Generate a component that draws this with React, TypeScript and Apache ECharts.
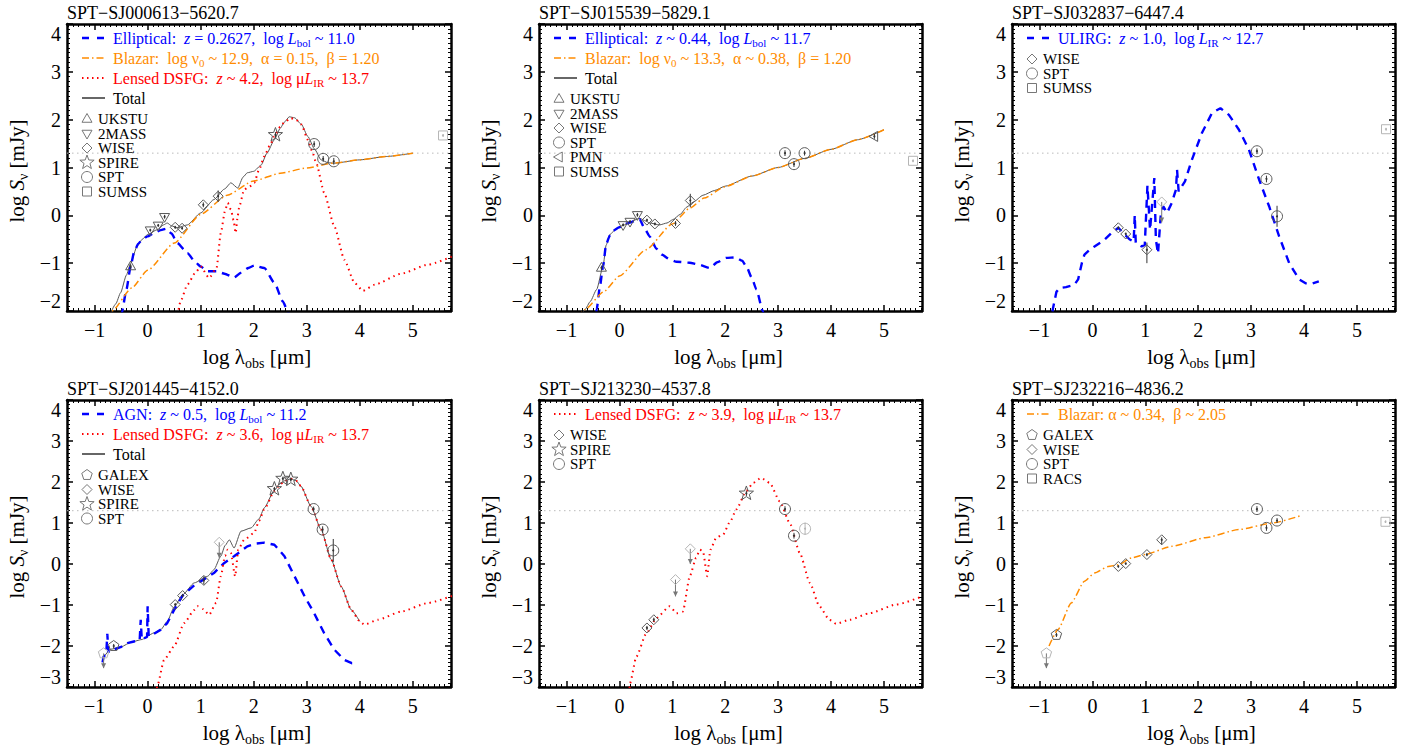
import React, { useEffect, useRef } from 'react';
import * as echarts from 'echarts';

const FONT = 'Liberation Serif, serif';
const BLUE = '#0000ff';
const ORANGE = '#ff8c00';
const RED = '#ff0000';
const GRAY = '#5a5a5a';
const LIGHT = '#b5b5b5';

const X_MIN = -1.52;
const X_MAX = 5.72;
const X_MAJOR = [-1, 0, 1, 2, 3, 4, 5];
const Y_MAX = 4;
const THRESHOLD = 1.3; // log(20 mJy)

// ---------- Panel 1: SPT-SJ000613-5620.7 ----------
const p1Elliptical = [[-0.5, -2.4], [-0.48, -2.0], [-0.4, -1.55], [-0.32, -1.07], [-0.26, -0.79], [-0.18, -0.6], [-0.1, -0.5], [0, -0.44], [0.12, -0.37], [0.25, -0.31], [0.35, -0.28], [0.45, -0.38], [0.56, -0.58], [0.75, -0.79], [0.9, -0.98], [1.0, -1.07], [1.13, -1.17], [1.3, -1.17], [1.45, -1.22], [1.63, -1.3], [1.76, -1.2], [1.9, -1.1], [2.01, -1.05], [2.2, -1.1], [2.39, -1.41], [2.55, -1.8], [2.64, -2.0], [2.7, -2.3]];
const p1Blazar = [[-0.8, -2.15], [-0.67, -2.0], [-0.3, -1.52], [0, -1.15], [0.5, -0.58], [1, 0.02], [1.5, 0.42], [2, 0.72], [2.5, 0.88], [3, 0.99], [3.5, 1.09], [4, 1.16], [4.5, 1.23], [5, 1.3]];
const p1DSFG = [[0.55, -2.2], [0.62, -1.8], [0.75, -1.45], [0.9, -1.2], [1.0, -1.07], [1.16, -1.31], [1.3, -1.1], [1.38, -0.37], [1.46, 0.1], [1.51, 0.26], [1.57, 0.12], [1.62, -0.1], [1.66, -0.37], [1.7, 0.0], [1.73, 0.19], [1.82, 0.54], [1.92, 0.6], [2.01, 0.68], [2.1, 0.95], [2.2, 1.23], [2.3, 1.45], [2.39, 1.65], [2.5, 1.85], [2.58, 1.95], [2.7, 2.03], [2.8, 2.0], [2.9, 1.9], [3.02, 1.58], [3.1, 1.35], [3.18, 1.09], [3.33, 0.47], [3.52, -0.23], [3.71, -0.93], [3.9, -1.41], [4.06, -1.58], [4.28, -1.45], [4.78, -1.22], [5.29, -1.03], [5.8, -0.83]];
const p1Total = [[-0.72, -2.1], [-0.6, -1.85], [-0.51, -1.62], [-0.4, -1.25], [-0.32, -1.0], [-0.2, -0.65], [-0.1, -0.5], [0, -0.4], [0.18, -0.3], [0.3, -0.2], [0.37, -0.16], [0.45, -0.22], [0.56, -0.26], [0.75, -0.2], [1, 0.05], [1.25, 0.33], [1.45, 0.55], [1.57, 0.68], [1.7, 0.57], [1.8, 0.8], [1.88, 0.89], [2.0, 0.92], [2.14, 1.05], [2.25, 1.3], [2.39, 1.58], [2.5, 1.82], [2.58, 1.95], [2.67, 2.06], [2.77, 2.04], [2.9, 1.9], [3.02, 1.65], [3.15, 1.38], [3.27, 1.16], [3.4, 1.1], [3.52, 1.09], [4, 1.16], [4.5, 1.23], [5, 1.3]];
// points: [log λ, log S, err-, err+]
const p1UKSTU = [[-0.32, -1.07, 0.05, 0.05]];
const p1TwoMASS = [[0.05, -0.31, 0.03, 0.03], [0.2, -0.21, 0.03, 0.03], [0.32, -0.03, 0.04, 0.04]];
const p1WISE = [[0.52, -0.25, 0.03, 0.03], [0.65, -0.27, 0.03, 0.03], [1.05, 0.22, 0.05, 0.05], [1.33, 0.4, 0.12, 0.12]];
const p1SPIRE = [[2.41, 1.68, 0.06, 0.06]];
const p1SPT = [[3.14, 1.49, 0.06, 0.06], [3.31, 1.18, 0.06, 0.06], [3.51, 1.13, 0.07, 0.07]];
const p1SUMSS = [[5.57, 1.67, 0.03, 0.03]];

// ---------- Panel 2: SPT-SJ015539-5829.1 ----------
const p2Elliptical = [[-0.45, -2.3], [-0.43, -1.97], [-0.37, -1.5], [-0.31, -1.07], [-0.25, -0.6], [-0.18, -0.42], [-0.12, -0.32], [0, -0.25], [0.07, -0.2], [0.2, -0.15], [0.3, -0.11], [0.38, -0.08], [0.48, -0.28], [0.57, -0.44], [0.7, -0.7], [0.8, -0.82], [0.95, -0.92], [1.08, -0.97], [1.33, -0.99], [1.5, -1.03], [1.71, -1.1], [1.85, -0.98], [2.02, -0.89], [2.2, -0.88], [2.32, -0.95], [2.4, -1.07], [2.5, -1.3], [2.59, -1.55], [2.71, -2.0], [2.75, -2.2]];
const p2Blazar = [[-0.8, -2.13], [-0.65, -1.97], [-0.3, -1.6], [0, -1.27], [0.5, -0.72], [1, -0.18], [1.33, 0.15], [1.6, 0.36], [2, 0.6], [2.5, 0.82], [3, 1.0], [3.5, 1.19], [4, 1.38], [4.5, 1.58], [5, 1.79]];
const p2Total = [[-0.72, -2.1], [-0.65, -1.97], [-0.55, -1.8], [-0.43, -1.55], [-0.31, -1.07], [-0.25, -0.62], [-0.18, -0.4], [-0.05, -0.27], [0.07, -0.21], [0.2, -0.14], [0.38, -0.06], [0.5, -0.12], [0.57, -0.16], [0.76, -0.2], [0.9, -0.16], [1.01, -0.09], [1.15, 0.02], [1.27, 0.17], [1.4, 0.28], [1.58, 0.42], [1.8, 0.52], [2, 0.61], [2.5, 0.82], [3, 1.0], [3.5, 1.19], [4, 1.38], [4.5, 1.58], [5, 1.79]];
const p2UKSTU = [[-0.34, -1.1, 0.05, 0.05]];
const p2TwoMASS = [[0.07, -0.2, 0.03, 0.03], [0.2, -0.13, 0.03, 0.03], [0.34, 0.01, 0.04, 0.04]];
const p2WISE = [[0.52, -0.1, 0.03, 0.03], [0.67, -0.18, 0.03, 0.03], [1.06, -0.17, 0.05, 0.05], [1.34, 0.31, 0.14, 0.14]];
const p2SPT = [[3.13, 1.3, 0.06, 0.06], [3.3, 1.07, 0.06, 0.06], [3.5, 1.3, 0.05, 0.05]];
const p2PMN = [[4.82, 1.65, 0.05, 0.05]];
const p2SUMSS = [[5.55, 1.14, 0.03, 0.03]];

// ---------- Panel 3: SPT-SJ032837-6447.4 ----------
const p3ULIRG = [[-0.78, -2.3], [-0.75, -1.97], [-0.68, -1.6], [-0.62, -1.52], [-0.5, -1.5], [-0.34, -1.45], [-0.27, -1.34], [-0.2, -1.0], [-0.15, -0.82], [-0.05, -0.72], [0.04, -0.65], [0.23, -0.51], [0.35, -0.38], [0.49, -0.26], [0.61, -0.4], [0.7, -0.5], [0.78, -0.55], [0.8, 0.0], [0.82, -0.58], [0.93, -0.65], [0.99, -0.62], [1.04, 0.62], [1.09, -0.3], [1.17, 0.78], [1.2, -0.51], [1.24, -0.8], [1.29, -0.02], [1.34, 0.19], [1.41, 0.05], [1.5, 0.26], [1.58, 0.54], [1.6, 0.95], [1.63, 0.5], [1.75, 0.71], [1.88, 1.16], [2.07, 1.72], [2.26, 2.14], [2.42, 2.24], [2.58, 2.1], [2.77, 1.79], [2.96, 1.37], [3.15, 0.75], [3.34, 0.19], [3.53, -0.44], [3.72, -1.0], [3.91, -1.34], [4.03, -1.42], [4.15, -1.43], [4.28, -1.38]];
const p3WISE = [[0.49, -0.26, 0.03, 0.03], [0.63, -0.39, 0.03, 0.03], [1.03, -0.72, 0.28, 0.15]];
const p3WISELimit = [[1.31, 0.28, -0.15]]; // [log λ, limit, arrow end]
const p3SPT = [[3.11, 1.34, 0.06, 0.06], [3.29, 0.76, 0.07, 0.07], [3.49, -0.02, 0.22, 0.22]];
const p3SUMSS = [[5.55, 1.8, 0.03, 0.03]];

// ---------- Panel 4: SPT-SJ201445-4152.0 ----------
const p4AGN = [[-0.85, -2.4], [-0.83, -2.26], [-0.78, -2.2], [-0.76, -1.7], [-0.74, -2.15], [-0.7, -2.09], [-0.6, -2.07], [-0.51, -2.03], [-0.45, -1.98], [-0.38, -1.93], [-0.26, -1.89], [-0.15, -1.86], [-0.13, -1.36], [-0.11, -1.85], [-0.05, -1.8], [-0.01, -1.78], [0, -1.03], [0.02, -1.76], [0.12, -1.7], [0.25, -1.6], [0.37, -1.44], [0.5, -1.12], [0.66, -0.77], [0.88, -0.52], [1.06, -0.38], [1.25, -0.22], [1.44, 0.02], [1.63, 0.19], [1.88, 0.43], [2.05, 0.5], [2.2, 0.52], [2.39, 0.47], [2.58, 0.19], [2.77, -0.3], [2.96, -0.79], [3.14, -1.2], [3.33, -1.69], [3.52, -2.09], [3.71, -2.34], [3.85, -2.42], [3.96, -2.42]];
const p4DSFG = [[0.15, -3.3], [0.18, -2.99], [0.31, -2.34], [0.5, -2.01], [0.69, -1.44], [0.88, -1.12], [0.94, -1.03], [1.05, -1.1], [1.16, -1.24], [1.29, -0.95], [1.38, -0.3], [1.46, 0.2], [1.51, 0.35], [1.57, 0.27], [1.65, -0.3], [1.71, 0.35], [1.82, 0.59], [2.01, 0.76], [2.1, 1.05], [2.2, 1.33], [2.39, 1.78], [2.5, 1.95], [2.58, 2.02], [2.7, 2.08], [2.8, 2.03], [2.89, 1.9], [3.08, 1.41], [3.27, 0.84], [3.46, 0.11], [3.65, -0.55], [3.84, -1.12], [4.0, -1.4], [4.09, -1.48], [4.34, -1.36], [4.78, -1.16], [5.29, -0.95], [5.8, -0.75]];
const p4Total = [[-0.85, -2.35], [-0.83, -2.25], [-0.7, -2.08], [-0.5, -2.02], [-0.3, -1.9], [-0.1, -1.84], [0, -1.75], [0.12, -1.68], [0.25, -1.6], [0.37, -1.4], [0.5, -1.05], [0.66, -0.75], [0.88, -0.46], [1.13, -0.3], [1.25, -0.14], [1.38, 0.19], [1.46, 0.45], [1.54, 0.59], [1.63, 0.39], [1.76, 0.8], [1.95, 0.88], [2.1, 1.1], [2.2, 1.37], [2.39, 1.8], [2.5, 1.97], [2.58, 2.03], [2.7, 2.08], [2.8, 2.03], [2.89, 1.9], [3.08, 1.41], [3.27, 0.84], [3.46, 0.11], [3.65, -0.55], [3.84, -1.12], [4.0, -1.4]];
const p4GALEX = [[-0.64, -2.0, 0.05, 0.05]];
const p4GALEXLimit = [[-0.83, -2.18, -2.54]];
const p4WISE = [[0.52, -0.99, 0.04, 0.04], [0.66, -0.77, 0.04, 0.04], [1.06, -0.4, 0.1, 0.1]];
const p4WISELimit = [[1.35, 0.53, 0.15]];
const p4SPIRE = [[2.39, 1.83, 0.05, 0.05], [2.55, 2.08, 0.05, 0.05], [2.7, 2.06, 0.05, 0.05]];
const p4SPT = [[3.13, 1.34, 0.06, 0.06], [3.3, 0.84, 0.08, 0.08], [3.5, 0.33, 0.28, 0.28]];

// ---------- Panel 5: SPT-SJ213230-4537.8 ----------
const p5DSFG = [[0.18, -3.3], [0.2, -2.91], [0.32, -2.26], [0.51, -1.69], [0.7, -1.32], [0.95, -1.03], [1.08, -1.2], [1.2, -1.16], [1.33, -0.3], [1.45, 0.15], [1.52, 0.35], [1.58, 0.31], [1.66, -0.3], [1.72, 0.35], [1.83, 0.64], [1.96, 0.72], [2.1, 1.05], [2.21, 1.33], [2.4, 1.78], [2.53, 1.98], [2.68, 2.1], [2.84, 1.98], [3.03, 1.53], [3.22, 1.0], [3.41, 0.27], [3.6, -0.46], [3.78, -1.03], [3.97, -1.36], [4.1, -1.46], [4.35, -1.36], [4.73, -1.2], [5.23, -0.99], [5.8, -0.75]];
const p5WISE = [[0.52, -1.56, 0.05, 0.05], [0.65, -1.36, 0.05, 0.05]];
const p5WISELimit = [[1.06, -0.38, -0.79], [1.34, 0.37, 0.0]];
const p5SPIRE = [[2.4, 1.72, 0.06, 0.06]];
const p5SPT = [[3.13, 1.34, 0.07, 0.07], [3.3, 0.69, 0.07, 0.07]];
const p5SPTFaint = [[3.51, 0.86, 0.15, 0.15]];

// ---------- Panel 6: SPT-SJ232216-4836.2 ----------
const p6Blazar = [[-0.82, -2.0], [-0.65, -1.6], [-0.4, -0.95], [-0.15, -0.42], [0.04, -0.22], [0.3, -0.06], [0.49, -0.02], [0.74, 0.15], [0.99, 0.23], [1.5, 0.43], [2.13, 0.64], [2.77, 0.84], [3.4, 1.0], [3.94, 1.18]];
const p6GALEX = [[-0.68, -1.73, 0.05, 0.05]];
const p6GALEXLimit = [[-0.87, -2.18, -2.54]];
const p6WISE = [[0.49, -0.06, 0.03, 0.03], [0.63, 0.01, 0.03, 0.03], [1.03, 0.23, 0.04, 0.04], [1.31, 0.59, 0.12, 0.06]];
const p6SPT = [[3.11, 1.34, 0.07, 0.07], [3.29, 0.88, 0.07, 0.07], [3.49, 1.06, 0.06, 0.06]];
const p6RACS = [[5.54, 1.03, 0.03, 0.03]];

// ---------- layout ----------
const GRIDS = [
  { left: 67, top: 24, width: 384, height: 287 },
  { left: 539, top: 24, width: 383, height: 287 },
  { left: 1012, top: 24, width: 383, height: 287 },
  { left: 67, top: 400, width: 384, height: 287 },
  { left: 539, top: 400, width: 383, height: 287 },
  { left: 1012, top: 400, width: 383, height: 287 },
];

type Part = [string, string];
const S2 = '\u00a0 ';

const panels: any[] = [
  {
    title: 'SPT−SJ000613−5620.7', yMin: -2,
    curves: [
      { data: p1Elliptical, style: 'dash', smooth: true },
      { data: p1Blazar, style: 'dashdot', smooth: true },
      { data: p1DSFG, style: 'dot', smooth: true },
      { data: p1Total, style: 'total', smooth: true },
    ],
    points: [
      { kind: 'triangle', data: p1UKSTU }, { kind: 'down', data: p1TwoMASS }, { kind: 'diamond', data: p1WISE },
      { kind: 'star', data: p1SPIRE }, { kind: 'circle', data: p1SPT }, { kind: 'square', data: p1SUMSS, light: true },
    ],
    limits: [],
    models: [
      { style: 'dash', parts: [['Elliptical:' + S2, 'n'], ['z', 'i'], [' = 0.2627,' + S2 + 'log ', 'n'], ['L', 'i'], ['bol', 's'], [' ~ 11.0', 'n']] },
      { style: 'dashdot', parts: [['Blazar:' + S2 + 'log ν', 'n'], ['0', 's'], [' ~ 12.9,' + S2 + 'α = 0.15,' + S2 + 'β = 1.20', 'n']] },
      { style: 'dot', parts: [['Lensed DSFG:' + S2, 'n'], ['z', 'i'], [' ~ 4.2,' + S2 + 'log μ', 'n'], ['L', 'i'], ['IR', 's'], [' ~ 13.7', 'n']] },
      { style: 'total', parts: [['Total', 'n']] },
    ],
    symbols: [['triangle', 'UKSTU'], ['down', '2MASS'], ['diamond', 'WISE'], ['star', 'SPIRE'], ['circle', 'SPT'], ['square', 'SUMSS']],
  },
  {
    title: 'SPT−SJ015539−5829.1', yMin: -2,
    curves: [
      { data: p2Elliptical, style: 'dash', smooth: true },
      { data: p2Blazar, style: 'dashdot', smooth: true },
      { data: p2Total, style: 'total', smooth: true },
    ],
    points: [
      { kind: 'triangle', data: p2UKSTU }, { kind: 'down', data: p2TwoMASS }, { kind: 'diamond', data: p2WISE },
      { kind: 'circle', data: p2SPT }, { kind: 'left', data: p2PMN }, { kind: 'square', data: p2SUMSS, light: true },
    ],
    limits: [],
    models: [
      { style: 'dash', parts: [['Elliptical:' + S2, 'n'], ['z', 'i'], [' ~ 0.44,' + S2 + 'log ', 'n'], ['L', 'i'], ['bol', 's'], [' ~ 11.7', 'n']] },
      { style: 'dashdot', parts: [['Blazar:' + S2 + 'log ν', 'n'], ['0', 's'], [' ~ 13.3,' + S2 + 'α ~ 0.38,' + S2 + 'β = 1.20', 'n']] },
      { style: 'total', parts: [['Total', 'n']] },
    ],
    symbols: [['triangle', 'UKSTU'], ['down', '2MASS'], ['diamond', 'WISE'], ['circle', 'SPT'], ['left', 'PMN'], ['square', 'SUMSS']],
  },
  {
    title: 'SPT−SJ032837−6447.4', yMin: -2,
    curves: [{ data: p3ULIRG, style: 'dash', smooth: false }],
    points: [
      { kind: 'diamond', data: p3WISE }, { kind: 'circle', data: p3SPT }, { kind: 'square', data: p3SUMSS, light: true },
    ],
    limits: [{ kind: 'diamond', data: p3WISELimit }],
    models: [
      { style: 'dash', parts: [['ULIRG:' + S2, 'n'], ['z', 'i'], [' ~ 1.0,' + S2 + 'log ', 'n'], ['L', 'i'], ['IR', 's'], [' ~ 12.7', 'n']] },
    ],
    symbols: [['diamond', 'WISE'], ['circle', 'SPT'], ['square', 'SUMSS']],
  },
  {
    title: 'SPT−SJ201445−4152.0', yMin: -3,
    curves: [
      { data: p4AGN, style: 'dash', smooth: false },
      { data: p4DSFG, style: 'dot', smooth: true },
      { data: p4Total, style: 'total', smooth: true },
    ],
    points: [
      { kind: 'pentagon', data: p4GALEX }, { kind: 'diamond', data: p4WISE }, { kind: 'star', data: p4SPIRE }, { kind: 'circle', data: p4SPT },
    ],
    limits: [{ kind: 'pentagon', data: p4GALEXLimit }, { kind: 'diamond', data: p4WISELimit }],
    models: [
      { style: 'dash', parts: [['AGN:' + S2, 'n'], ['z', 'i'], [' ~ 0.5,' + S2 + 'log ', 'n'], ['L', 'i'], ['bol', 's'], [' ~ 11.2', 'n']] },
      { style: 'dot', parts: [['Lensed DSFG:' + S2, 'n'], ['z', 'i'], [' ~ 3.6,' + S2 + 'log μ', 'n'], ['L', 'i'], ['IR', 's'], [' ~ 13.7', 'n']] },
      { style: 'total', parts: [['Total', 'n']] },
    ],
    symbols: [['pentagon', 'GALEX'], ['diamond', 'WISE'], ['star', 'SPIRE'], ['circle', 'SPT']],
  },
  {
    title: 'SPT−SJ213230−4537.8', yMin: -3,
    curves: [{ data: p5DSFG, style: 'dot', smooth: true }],
    points: [
      { kind: 'diamond', data: p5WISE }, { kind: 'star', data: p5SPIRE }, { kind: 'circle', data: p5SPT }, { kind: 'circle', data: p5SPTFaint, light: true },
    ],
    limits: [{ kind: 'diamond', data: p5WISELimit }],
    models: [
      { style: 'dot', parts: [['Lensed DSFG:' + S2, 'n'], ['z', 'i'], [' ~ 3.9,' + S2 + 'log μ', 'n'], ['L', 'i'], ['IR', 's'], [' ~ 13.7', 'n']] },
    ],
    symbols: [['diamond', 'WISE'], ['star', 'SPIRE'], ['circle', 'SPT']],
  },
  {
    title: 'SPT−SJ232216−4836.2', yMin: -3,
    curves: [{ data: p6Blazar, style: 'dashdot', smooth: true }],
    points: [
      { kind: 'pentagon', data: p6GALEX }, { kind: 'diamond', data: p6WISE }, { kind: 'circle', data: p6SPT }, { kind: 'square', data: p6RACS, light: true },
    ],
    limits: [{ kind: 'pentagon', data: p6GALEXLimit }],
    models: [
      { style: 'dashdot', parts: [['Blazar: α ~ 0.34,' + S2 + 'β ~ 2.05', 'n']] },
    ],
    symbols: [['pentagon', 'GALEX'], ['diamond', 'WISE'], ['circle', 'SPT'], ['square', 'RACS']],
  },
];

const CURVE_STYLE: any = {
  dash: { color: BLUE, width: 2.4, type: [8, 6] },
  dashdot: { color: ORANGE, width: 1.5, type: [7, 3, 1.5, 3] },
  dot: { color: RED, width: 2, type: [1.5, 4] },
  total: { color: '#555', width: 1, type: 'solid' },
};
const LEGEND_LINE: any = {
  dash: { stroke: BLUE, lineWidth: 2.4, lineDash: [7, 8] },
  dashdot: { stroke: ORANGE, lineWidth: 1.5, lineDash: [7, 3, 1.5, 3] },
  dot: { stroke: RED, lineWidth: 2, lineDash: [1.5, 3.5] },
  total: { stroke: '#000', lineWidth: 1.2 },
};
const LEGEND_COLOR: any = { dash: BLUE, dashdot: ORANGE, dot: RED, total: '#000' };

function minorValues() {
  const out: number[] = [];
  for (let v = -15; v <= 57; v++) if (v % 10 !== 0) out.push(v / 10);
  return out;
}
const X_MINOR = minorValues();

function symbolEl(kind: string, cx: number, cy: number, color: string) {
  const style = { fill: 'none', stroke: color, lineWidth: 1 };
  const poly = (pts: number[][]) => ({ type: 'polygon', shape: { points: pts }, style });
  const r = 5;
  switch (kind) {
    case 'triangle':
      return poly([[cx, cy - r * 1.1], [cx + r, cy + r * 0.65], [cx - r, cy + r * 0.65]]);
    case 'down':
      return poly([[cx, cy + r * 1.1], [cx + r, cy - r * 0.65], [cx - r, cy - r * 0.65]]);
    case 'left':
      return poly([[cx - r * 1.1, cy], [cx + r * 0.65, cy - r], [cx + r * 0.65, cy + r]]);
    case 'diamond':
      return poly([[cx, cy - r], [cx + r, cy], [cx, cy + r], [cx - r, cy]]);
    case 'square':
      return { type: 'rect', shape: { x: cx - 4.5, y: cy - 4.5, width: 9, height: 9 }, style };
    case 'circle':
      return { type: 'circle', shape: { cx, cy, r: 5.5 }, style };
    case 'star': {
      const pts: number[][] = [];
      for (let k = 0; k < 10; k++) {
        const rr = k % 2 === 0 ? 7.5 : 3.1;
        const a = -Math.PI / 2 + (k * Math.PI) / 5;
        pts.push([cx + rr * Math.cos(a), cy + rr * Math.sin(a)]);
      }
      return poly(pts);
    }
    case 'pentagon': {
      const pts: number[][] = [];
      for (let k = 0; k < 5; k++) {
        const a = -Math.PI / 2 + (k * 2 * Math.PI) / 5;
        pts.push([cx + 5.5 * Math.cos(a), cy + 5.5 * Math.sin(a)]);
      }
      return poly(pts);
    }
  }
  return { type: 'circle', shape: { cx, cy, r: 4 }, style };
}

function richText(parts: Part[], color: string, size: number) {
  const text = parts.map(([t, k]) => `{${k}|${t}}`).join('');
  const sub = Math.round(size * 0.68);
  const rich = {
    n: { fontFamily: FONT, fontSize: size, fill: color, lineHeight: size + 5 },
    i: { fontFamily: FONT, fontSize: size, fill: color, fontStyle: 'italic', lineHeight: size + 5 },
    s: { fontFamily: FONT, fontSize: sub, fill: color, lineHeight: sub + 2, verticalAlign: 'bottom' },
  };
  return { text, rich };
}

function textEl(x: number, y: number, parts: Part[], color: string, size: number, align = 'left', rotation = 0) {
  const rt = richText(parts, color, size);
  return {
    type: 'text', x, y, rotation, silent: true,
    style: { ...rt, fill: color, fontFamily: FONT, fontSize: size, align, verticalAlign: 'middle', textAlign: align, textVerticalAlign: 'middle' },
  };
}

function buildOption() {
  const xAxis: any[] = [];
  const yAxis: any[] = [];
  const series: any[] = [];
  const graphic: any[] = [];
  const fmt = (v: number) => String(v).replace('-', '−');

  panels.forEach((p, i) => {
    const g = GRIDS[i];
    const tickLine = { color: '#000', width: 1.5 };
    const baseX = { gridIndex: i, type: 'value', min: X_MIN, max: X_MAX, splitLine: { show: false } };
    xAxis.push({
      ...baseX, position: 'bottom',
      axisLine: { show: true, onZero: false, lineStyle: { color: '#000', width: 2.5 } },
      axisTick: { show: true, inside: true, length: 6, customValues: X_MAJOR, lineStyle: tickLine },
      axisLabel: { show: true, customValues: X_MAJOR, formatter: fmt, fontFamily: FONT, fontSize: 20, color: '#000', margin: 9 },
    });
    xAxis.push({
      ...baseX, position: 'bottom',
      axisLine: { show: false, onZero: false },
      axisTick: { show: true, inside: true, length: 3, customValues: X_MINOR, lineStyle: { color: '#000', width: 1 } },
      axisLabel: { show: false },
    });
    xAxis.push({
      ...baseX, position: 'top',
      axisLine: { show: true, onZero: false, lineStyle: { color: '#000', width: 2.5 } },
      axisTick: { show: true, inside: true, length: 6, customValues: X_MAJOR, lineStyle: tickLine },
      axisLabel: { show: false },
    });
    xAxis.push({
      ...baseX, position: 'top',
      axisLine: { show: false, onZero: false },
      axisTick: { show: true, inside: true, length: 3, customValues: X_MINOR, lineStyle: { color: '#000', width: 1 } },
      axisLabel: { show: false },
    });
    const baseY = { gridIndex: i, type: 'value', min: p.yMin, max: Y_MAX, interval: 1, splitLine: { show: false } };
    const minor = { show: true, splitNumber: 10, length: 3, lineStyle: { color: '#000', width: 1 } };
    yAxis.push({
      ...baseY, position: 'left',
      axisLine: { show: true, onZero: false, lineStyle: { color: '#000', width: 2.5 } },
      axisTick: { show: true, inside: true, length: 6, lineStyle: tickLine },
      minorTick: minor,
      axisLabel: {
        show: true, formatter: fmt, fontFamily: FONT, fontSize: 20, color: '#000', margin: 6,
        verticalAlignMinLabel: 'bottom', verticalAlignMaxLabel: 'top',
      },
    });
    yAxis.push({
      ...baseY, position: 'right',
      axisLine: { show: true, onZero: false, lineStyle: { color: '#000', width: 2.5 } },
      axisTick: { show: true, inside: true, length: 6, lineStyle: tickLine },
      minorTick: minor,
      axisLabel: { show: false },
    });

    const xi = 4 * i, yi = 2 * i;
    series.push({
      type: 'line', xAxisIndex: xi, yAxisIndex: yi, silent: true, showSymbol: false, z: 1,
      data: [[X_MIN, THRESHOLD], [X_MAX, THRESHOLD]],
      lineStyle: { color: '#bbbbbb', width: 1, type: [1.5, 3.5] },
    });
    p.curves.forEach((c: any) => {
      const st = CURVE_STYLE[c.style];
      series.push({
        type: 'line', xAxisIndex: xi, yAxisIndex: yi, silent: true, showSymbol: false, z: c.style === 'total' ? 2 : 3,
        data: c.data, smooth: c.smooth ? 0.2 : false, smoothMonotone: 'x',
        lineStyle: { color: st.color, width: st.width, type: st.type },
      });
    });
    p.points.forEach((pt: any) => {
      const col = pt.light ? LIGHT : GRAY;
      const barCol = pt.light ? LIGHT : '#333';
      series.push({
        type: 'custom', xAxisIndex: xi, yAxisIndex: yi, silent: true, z: 5, data: pt.data,
        renderItem: (params: any, api: any) => {
          const x = api.value(0), y = api.value(1), lo = api.value(2), hi = api.value(3);
          const c = api.coord([x, y]);
          const a = api.coord([x, y - lo]);
          const b = api.coord([x, y + hi]);
          return {
            type: 'group', children: [
              { type: 'line', shape: { x1: c[0], y1: a[1], x2: c[0], y2: b[1] }, style: { stroke: barCol, lineWidth: 1 } },
              symbolEl(pt.kind, c[0], c[1], col),
              { type: 'circle', shape: { cx: c[0], cy: c[1], r: 1 }, style: { fill: barCol } },
            ],
          };
        },
      });
    });
    p.limits.forEach((pt: any) => {
      series.push({
        type: 'custom', xAxisIndex: xi, yAxisIndex: yi, silent: true, z: 5, data: pt.data,
        renderItem: (params: any, api: any) => {
          const x = api.value(0), y = api.value(1), end = api.value(2);
          const c = api.coord([x, y]);
          const e = api.coord([x, end]);
          return {
            type: 'group', children: [
              { type: 'line', shape: { x1: c[0], y1: c[1], x2: e[0], y2: e[1] }, style: { stroke: '#777', lineWidth: 1 } },
              { type: 'polygon', shape: { points: [[e[0] - 2.5, e[1] - 5], [e[0], e[1]], [e[0] + 2.5, e[1] - 5]] }, style: { fill: '#777' } },
              symbolEl(pt.kind, c[0], c[1], LIGHT),
            ],
          };
        },
      });
    });

    // texts & legends
    graphic.push(textEl(g.left, g.top - 11, [[p.title, 'n']], '#000', 18));
    graphic.push(textEl(g.left + g.width / 2 - 2, g.top + 333, [['log λ', 'n'], ['obs', 's'], [' [μm]', 'n']], '#000', 21, 'center'));
    graphic.push(textEl(g.left - 50, g.top + 147, [['log ', 'n'], ['S', 'i'], ['ν', 's'], [' [mJy]', 'n']], '#000', 21, 'center', Math.PI / 2));
    p.models.forEach((m: any, k: number) => {
      const y = g.top + 14 + 20 * k;
      graphic.push({ type: 'line', silent: true, shape: { x1: g.left + 15, y1: y, x2: g.left + 38, y2: y }, style: LEGEND_LINE[m.style] });
      graphic.push(textEl(g.left + 46, y, m.parts, LEGEND_COLOR[m.style], 16));
    });
    const y0 = g.top + 15 + 20 * p.models.length;
    p.symbols.forEach((s: any, k: number) => {
      const y = y0 + 14.5 * k;
      const el: any = symbolEl(s[0], g.left + 20, y, '#777');
      el.silent = true;
      graphic.push(el);
      graphic.push(textEl(g.left + 31, y, [[s[1], 'n']], '#000', 15));
    });
  });

  return {
    animation: false,
    backgroundColor: '#ffffff',
    textStyle: { fontFamily: FONT },
    grid: GRIDS.map((g) => ({ ...g, containLabel: false })),
    xAxis, yAxis, series,
    graphic: { elements: graphic },
  };
}

export default function App() {
  const ref = useRef<HTMLDivElement>(null);
  useEffect(() => {
    if (!ref.current) return;
    const chart = echarts.init(ref.current, null, { renderer: 'svg' });
    chart.setOption(buildOption() as any);
    return () => chart.dispose();
  }, []);
  return <div ref={ref} style={{ position: 'absolute', left: 0, top: 0, width: 1413, height: 752, background: '#fff' }} />;
}
